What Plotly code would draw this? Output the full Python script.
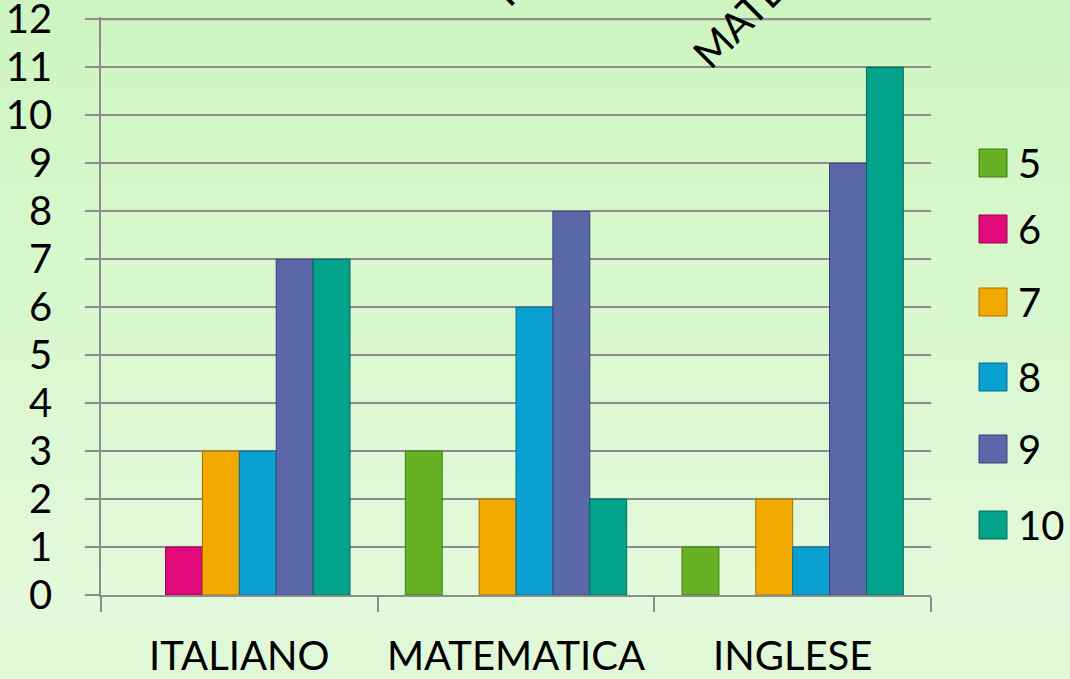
import plotly.graph_objects as go

categories = ["ITALIANO", "MATEMATICA", "INGLESE"]
series_names = ["5", "6", "7", "8", "9", "10"]
v5 = [0, 3, 1]
v6 = [1, 0, 0]
v7 = [3, 2, 2]
v8 = [3, 6, 1]
v9 = [7, 8, 9]
v10 = [7, 2, 11]
series_values = [v5, v6, v7, v8, v9, v10]
y_ticks = list(range(0, 13))

colors = ["#66b224", "#e2097a", "#f2a900", "#0aa0d2", "#5a68aa", "#03a28a"]
edge = ["#3f7a12", "#9a0350", "#a87000", "#066f93", "#37427a", "#006b5a"]

FONT = "Lato"
W, H = 1070, 679
L, R, T, B = 101, 139, 17, 84
PW, PH = W - L - R, H - T - B

fig = go.Figure()
for name, vals, c, e in zip(series_names, series_values, colors, edge):
    fig.add_trace(go.Bar(
        x=categories, y=vals, name=name,
        marker=dict(color=c, line=dict(color=e, width=[1 if v > 0 else 0 for v in vals])),
        showlegend=False,
    ))

shapes = []
# background gradient
top = (204, 245, 190)
bot = (227, 249, 219)
n = 30
for i in range(n):
    f = i / (n - 1)
    col = tuple(round(top[k] + (bot[k] - top[k]) * f) for k in range(3))
    shapes.append(dict(
        type="rect", xref="paper", yref="paper", layer="below",
        x0=-L / PW, x1=(W - L) / PW,
        y0=(H - T) / PH - (i + 1) * (H / n) / PH - 0.001,
        y1=(H - T) / PH - i * (H / n) / PH + 0.001,
        fillcolor="rgb(%d,%d,%d)" % col, line=dict(width=0),
    ))

# top gridline (plotly drops the grid line at the very edge)
shapes.append(dict(type="line", xref="paper", yref="y", layer="below",
                   x0=0, x1=1, y0=y_ticks[-1], y1=y_ticks[-1],
                   line=dict(color="#8c8c8c", width=1.5)))

Y0 = H - B  # pixel y of value 0

# manual legend
legend_y = [163, 229, 302, 377, 449, 525]
annotations = []
for name, c, e, py in zip(series_names, colors, edge, legend_y):
    shapes.append(dict(type="rect", xref="paper", yref="paper",
                       x0=(979 - L) / PW, x1=(1007 - L) / PW,
                       y0=(Y0 - (py + 14)) / PH, y1=(Y0 - (py - 14)) / PH,
                       fillcolor=c, line=dict(color=e, width=1)))
    annotations.append(dict(xref="paper", yref="paper", x=(1016 - L) / PW,
                            y=(Y0 - py) / PH, text=name, showarrow=False,
                            xanchor="left", yanchor="middle",
                            font=dict(family=FONT, size=40, color="black")))

# clipped rotated texts at the top
annotations.append(dict(xref="paper", yref="paper", x=(479 - L) / PW, y=(Y0 - 17) / PH,
                        text="ITALIANO", textangle=-45, showarrow=False,
                        xanchor="left", yanchor="bottom",
                        font=dict(family=FONT, size=40, color="black")))
annotations.append(dict(xref="paper", yref="paper", x=(680 - L) / PW, y=(Y0 - 80) / PH,
                        text="MATEMATICA", textangle=-45, showarrow=False,
                        xanchor="left", yanchor="bottom",
                        font=dict(family=FONT, size=40, color="black")))

fig.update_layout(
    width=W, height=H,
    margin=dict(l=L, r=R, t=T, b=B, pad=0, autoexpand=False),
    paper_bgcolor="#e0f8d8",
    plot_bgcolor="rgba(0,0,0,0)",
    barmode="group", bargap=0.2, bargroupgap=0,
    shapes=shapes, annotations=annotations,
    showlegend=False,
    font=dict(family=FONT, color="black"),
)
fig.update_yaxes(
    range=[0, 12.05], tickvals=y_ticks, showgrid=True, gridcolor="#8c8c8c", gridwidth=1.5,
    showline=True, linecolor="#8c8c8c", linewidth=1.5,
    ticks="outside", ticklen=14, tickcolor="#8c8c8c", tickwidth=1.5,
    tickfont=dict(family=FONT, size=40, color="black"), ticklabelstandoff=25,
    ticklabeloverflow="allow",
    zeroline=False, automargin=False,
)
fig.update_xaxes(
    showline=True, linecolor="#8c8c8c", linewidth=1.5,
    ticks="outside", ticklen=15, tickcolor="#8c8c8c", tickwidth=1.5,
    tickson="boundaries", showgrid=False, automargin=False,
    tickfont=dict(family=FONT, size=40, color="black"), ticklabelstandoff=25,
    ticklabeloverflow="allow",
)

fig.write_html("out.html", config={"displayModeBar": False},
               post_script="document.body.style.margin='0';document.body.style.overflow='hidden';")
